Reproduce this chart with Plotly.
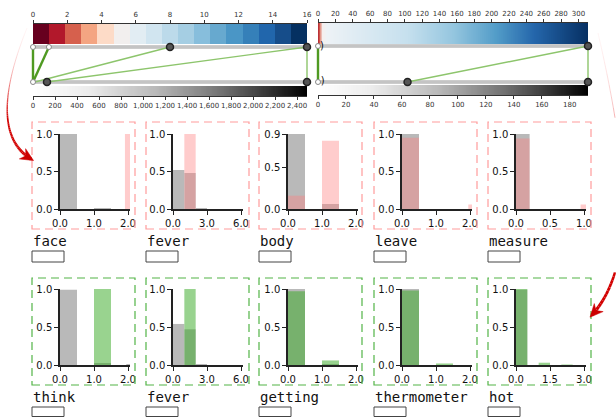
import numpy as np
import plotly.graph_objects as go

W, H = 616, 418

# ---------------- data ----------------
# top-left: discrete RdBu legend (0..16) and grey count legend (0..~2490)
rdbu_ticks = [0, 2, 4, 6, 8, 10, 12, 14, 16]
rdbu_levels = list(range(17))
rdbu_max = 16
gray1_ticks = list(range(0, 2401, 200))
gray1_max = 2490
top1_white = [0, 0.93]
top1_dark = [8, 16]
bot1_white = [0]
bot1_dark = [127, 2490]
links1_top = [0, 0.93, 8, 16, 16]
links1_bot = [0, 0, 18, 127, 2490]
links1_strong = [True, True, False, False, False]

# top-right: continuous legend (0..~311) and grey legend (0..~193)
blues_ticks = list(range(0, 301, 20))
blues_max = 311
gray2_ticks = list(range(0, 181, 20))
gray2_max = 193
top2_white = [0]
top2_bracket = [4.6]
top2_dark = [311]
bot2_white = [0]
bot2_bracket = [3.3]
bot2_dark = [64, 193]
links2_top = [0, 311, 311]
links2_bot = [0, 64, 193]
links2_strong = [True, False, False]

# histogram panels
top_words = ["face", "fever", "body", "leave", "measure"]
top_bin = [0.5, 1.0, 0.5, 0.5, 0.2]
top_xmax = [2.0, 6.0, 2.0, 2.0, 1.0]
top_ymax = [1.0, 1.0, 0.9, 1.0, 1.0]
top_all_x = [[0, 1], [0, 1, 2], [0, 1], [0], [0]]
top_all_y = [[1.0, 0.01], [0.52, 0.48, 0.01], [0.9, 0.06], [1.0], [1.0]]
top_sel_x = [[1.91], [1], [0, 1], [0, 1.95], [0, 0.95]]
top_sel_y = [[1.0], [1.0], [0.16, 0.82], [0.95, 0.06], [0.94, 0.06]]

bot_words = ["think", "fever", "getting", "thermometer", "hot"]
bot_bin = [0.5, 1.0, 0.5, 0.5, 0.5]
bot_xmax = [2.0, 6.0, 2.0, 2.0, 3.0]
bot_ymax = [1.0, 1.0, 1.0, 1.0, 1.0]
bot_all_x = [[0, 1, 1.95], [0, 1, 2], [0, 1], [0], [0]]
bot_all_y = [[0.99, 0.02, 0.01], [0.54, 0.47, 0.01], [1.0, 0.01], [1.0], [0.99]]
bot_sel_x = [[1], [1], [0, 1], [0, 1], [0, 1, 2]]
bot_sel_y = [[1.0], [1.0], [0.97, 0.06], [0.98, 0.02], [1.0, 0.03, 0.006]]

# ---------------- styles ----------------
RDBU17 = ["#67001f", "#b2182b", "#d6604d", "#f4a582", "#fddbc7", "#f2efee",
          "#e2edf3", "#d1e5f0", "#bcdaea", "#a5cee3", "#87bedc", "#67a9cf",
          "#4a96c6", "#3580b9", "#2166ac", "#164d8a", "#053061"]
BLUES_SCALE = [[0, "#a50f2a"], [0.006, "#d6604d"], [0.016, "#f6efed"],
               [0.035, "#edf2f6"], [0.33, "#c6e0ee"], [0.5, "#95c6df"],
               [0.66, "#529cc8"], [0.8, "#2466ab"], [1, "#062f62"]]
GREY_SCALE = [[0, "#ffffff"], [0.2, "#ececec"], [0.45, "#b8b8b8"],
              [0.7, "#6e6e6e"], [1, "#000000"]]
GRAY_BAR = "#b9b9b9"
PINK = "rgba(255,128,128,0.40)"
GREEN = "rgba(60,170,40,0.52)"
PINK_BOX = "#ff9c9c"
GREEN_BOX = "#52b447"
STRONG = "#4f9a22"
WEAK = "#8dc56c"

fig = go.Figure()
layout = dict(template="none", width=W, height=H, autosize=False,
              margin=dict(l=0, r=0, t=0, b=0, pad=0),
              paper_bgcolor="white", plot_bgcolor="rgba(0,0,0,0)",
              showlegend=False, barmode="overlay",
              font=dict(family="DejaVu Sans", size=10, color="#111"))
shapes = []
annotations = []
counter = [0]


def new_axes(xpx, ypx, xkw, ykw):
    counter[0] += 1
    n = counter[0]
    s = "" if n == 1 else str(n)
    layout["xaxis" + s] = dict(domain=[xpx[0] / W, xpx[1] / W], anchor="y" + s,
                               automargin=False, tickangle=0, **xkw)
    layout["yaxis" + s] = dict(domain=[1 - ypx[1] / H, 1 - ypx[0] / H], anchor="x" + s,
                               automargin=False, tickangle=0, **ykw)
    return "x" + s, "y" + s


HIDDEN = dict(visible=False, fixedrange=True, showgrid=False, zeroline=False)


def legend_axis(vmax, ticks, side, fmt=""):
    return dict(range=[0, vmax], side=side, tickvals=ticks, tickformat=fmt,
                ticks="outside", ticklen=3, tickcolor="#333", tickwidth=1,
                showline=True, linecolor="#333", linewidth=1,
                tickfont=dict(size=7, color="#333"), showgrid=False,
                zeroline=False, fixedrange=True)


def pad_dom(p0, p1, lo, hi):
    return (p0 + lo * (p1 - p0), p0 + hi * (p1 - p0))


def add_connector(xp, yp_top, yp_bot, tmax, bmax, tw, tb, td, bw, bb, bd, lt, lb, ls):
    xr = [-0.03, 1.03]
    yr = [-0.15, 1.15]
    xd = pad_dom(xp[0], xp[1], *xr)
    ydd = pad_dom(yp_bot, yp_top, *yr)
    xa, ya = new_axes(xd, (ydd[1], ydd[0]), dict(HIDDEN, range=xr), dict(HIDDEN, range=yr))
    for yv in (1, 0):
        fig.add_trace(go.Scatter(x=[0, 1], y=[yv, yv], mode="lines",
                                 line=dict(color="#9a9a9a", width=3.2),
                                 xaxis=xa, yaxis=ya, hoverinfo="skip"))
        fig.add_trace(go.Scatter(x=[0, 1], y=[yv, yv], mode="lines",
                                 line=dict(color="#d2d2d2", width=1.4),
                                 xaxis=xa, yaxis=ya, hoverinfo="skip"))
    for a, b, s in zip(lt, lb, ls):
        fig.add_trace(go.Scatter(x=[a / tmax, b / bmax], y=[1, 0], mode="lines",
                                 line=dict(color=STRONG if s else WEAK, width=2.4 if s else 1.4),
                                 xaxis=xa, yaxis=ya, hoverinfo="skip"))
    for vals, vmax, yv in ((tw, tmax, 1), (bw, bmax, 0)):
        fig.add_trace(go.Scatter(x=[v / vmax for v in vals], y=[yv] * len(vals), mode="markers",
                                 marker=dict(size=5, color="white", line=dict(color="#888", width=1)),
                                 cliponaxis=False, xaxis=xa, yaxis=ya, hoverinfo="skip"))
    for vals, vmax, yv in ((td, tmax, 1), (bd, bmax, 0)):
        fig.add_trace(go.Scatter(x=[v / vmax for v in vals], y=[yv] * len(vals), mode="markers",
                                 marker=dict(size=7, color="#555", line=dict(color="#222", width=1.5)),
                                 cliponaxis=False, xaxis=xa, yaxis=ya, hoverinfo="skip"))
    for vals, vmax, yv in ((tb, tmax, 1), (bb, bmax, 0)):
        if vals:
            fig.add_trace(go.Scatter(x=[v / vmax for v in vals], y=[yv] * len(vals), mode="text",
                                     text=[")"] * len(vals),
                                     textfont=dict(size=10, color="#111", family="DejaVu Sans"),
                                     cliponaxis=False, xaxis=xa, yaxis=ya, hoverinfo="skip"))


# ---------- top-left legends ----------
xa, ya = new_axes((33, 307), (24, 44), legend_axis(rdbu_max, rdbu_ticks, "top"),
                  dict(HIDDEN, range=[-0.5, 0.5]))
fig.add_trace(go.Heatmap(z=[rdbu_levels], x=[(i + 0.5) * rdbu_max / 17 for i in rdbu_levels], y=[0],
                         zmin=0, zmax=16, colorscale=[[i / 16, c] for i, c in enumerate(RDBU17)],
                         showscale=False, hoverinfo="skip", xaxis=xa, yaxis=ya))
xa, ya = new_axes((33, 307), (86, 96), legend_axis(gray1_max, gray1_ticks, "bottom", ","),
                  dict(HIDDEN, range=[-0.5, 0.5]))
g1 = np.linspace(0, gray1_max, 250)
fig.add_trace(go.Heatmap(z=[g1], x=g1, y=[0], colorscale=GREY_SCALE, showscale=False,
                         hoverinfo="skip", xaxis=xa, yaxis=ya))
add_connector((33, 307), 47, 82, rdbu_max, gray1_max, top1_white, [], top1_dark,
              bot1_white, [], bot1_dark, links1_top, links1_bot, links1_strong)

# ---------- top-right legends ----------
xa, ya = new_axes((318, 588), (23, 44), legend_axis(blues_max, blues_ticks, "top"),
                  dict(HIDDEN, range=[-0.5, 0.5]))
b1 = np.linspace(0, blues_max, 400)
fig.add_trace(go.Heatmap(z=[b1], x=b1, y=[0], colorscale=BLUES_SCALE, zmin=0, zmax=blues_max,
                         showscale=False, hoverinfo="skip", xaxis=xa, yaxis=ya))
xa, ya = new_axes((318, 588), (85, 95), legend_axis(gray2_max, gray2_ticks, "bottom"),
                  dict(HIDDEN, range=[-0.5, 0.5]))
g2 = np.linspace(0, gray2_max, 250)
fig.add_trace(go.Heatmap(z=[g2], x=g2, y=[0], colorscale=GREY_SCALE, showscale=False,
                         hoverinfo="skip", xaxis=xa, yaxis=ya))
add_connector((318, 588), 46, 82, blues_max, gray2_max, top2_white, top2_bracket, top2_dark,
              bot2_white, bot2_bracket, bot2_dark, links2_top, links2_bot, links2_strong)

# ---------- histogram panels ----------
box_left = [32, 146, 259, 374, 488]
axis_left = [60, 173, 288, 402, 516]


def hist_row(words, bins, xmaxs, ymaxs, ax_, ay_, sx_, sy_, sel_color, box_color,
             plot_y, box_y, label_y, rect_y):
    for i in range(5):
        xmax, ymax, w = xmaxs[i], ymaxs[i], bins[i]
        xr = [0, xmax * 1.03]
        axk = dict(range=xr, tickvals=[0, xmax / 2, xmax], tickformat=".1f",
                   ticks="outside", ticklen=4, tickcolor="#222", tickwidth=1,
                   showline=True, linecolor="#222", linewidth=1.5,
                   tickfont=dict(size=10, color="#111"), showgrid=False,
                   zeroline=False, fixedrange=True)
        ayk = dict(range=[0, ymax], tickvals=[0, 0.5, ymax], tickformat=".1f",
                   ticks="outside", ticklen=4, tickcolor="#222", tickwidth=1,
                   showline=True, linecolor="#222", linewidth=1.5,
                   tickfont=dict(size=10, color="#111"), showgrid=False,
                   zeroline=False, fixedrange=True)
        x0 = axis_left[i]
        xa, ya = new_axes((x0, x0 + 68 * 1.03), plot_y, axk, ayk)
        fig.add_trace(go.Bar(x=[l + w / 2 for l in ax_[i]], y=ay_[i], width=w,
                             marker=dict(color=GRAY_BAR, line=dict(width=0)),
                             xaxis=xa, yaxis=ya, hoverinfo="skip"))
        fig.add_trace(go.Bar(x=[l + w / 2 for l in sx_[i]], y=sy_[i], width=w,
                             marker=dict(color=sel_color, line=dict(width=0)),
                             xaxis=xa, yaxis=ya, hoverinfo="skip"))
        bl = box_left[i]
        shapes.append(dict(type="rect", xref="paper", yref="paper",
                           x0=bl / W, x1=(bl + 103) / W, y0=1 - box_y[1] / H, y1=1 - box_y[0] / H,
                           line=dict(color=box_color, width=1.2, dash="8px,5px")))
        annotations.append(dict(text=words[i], xref="paper", yref="paper",
                                x=(bl - 1) / W, y=1 - label_y / H, xanchor="left", yanchor="middle",
                                showarrow=False,
                                font=dict(family="DejaVu Sans Mono", size=14, color="#111")))
        shapes.append(dict(type="rect", xref="paper", yref="paper",
                           x0=bl / W, x1=(bl + 32) / W, y0=1 - rect_y[1] / H, y1=1 - rect_y[0] / H,
                           line=dict(color="#444", width=1)))


hist_row(top_words, top_bin, top_xmax, top_ymax, top_all_x, top_all_y, top_sel_x, top_sel_y,
         PINK, PINK_BOX, (134, 209), (122, 229), 241, (251, 262))
hist_row(bot_words, bot_bin, bot_xmax, bot_ymax, bot_all_x, bot_all_y, bot_sel_x, bot_sel_y,
         GREEN, GREEN_BOX, (289, 365), (278, 385), 397, (407, 416.5))


# ---------- red tapered arrows (kept inside the canvas) ----------
def bez(c, t):
    mt = 1 - t
    return (mt ** 3 * c[0][0] + 3 * mt ** 2 * t * c[1][0] + 3 * mt * t ** 2 * c[2][0] + t ** 3 * c[3][0],
            mt ** 3 * c[0][1] + 3 * mt ** 2 * t * c[1][1] + 3 * mt * t ** 2 * c[2][1] + t ** 3 * c[3][1])


def P(x, y):
    return x / W, 1 - y / H


XMAX_PX = W - 1.0
XMIN_PX = 1.0


def clip_seg(a, b):
    (x1, y1), (x2, y2) = a, b
    for lim, keep_low in ((XMAX_PX, True), (XMIN_PX, False)):
        in1 = x1 <= lim if keep_low else x1 >= lim
        in2 = x2 <= lim if keep_low else x2 >= lim
        if not in1 and not in2:
            return None
        if in1 != in2:
            f = (lim - x1) / (x2 - x1)
            xm, ym = lim, y1 + f * (y2 - y1)
            if in1:
                x2, y2 = xm, ym
            else:
                x1, y1 = xm, ym
    return (x1, y1), (x2, y2)


def add_arrow(c, n=60):
    ts = np.linspace(0, 1, n + 1)
    pts = [bez(c, t) for t in ts]
    for i in range(n):
        tm = (ts[i] + ts[i + 1]) / 2
        seg = clip_seg(pts[i], pts[i + 1])
        if seg is None:
            continue
        w = 0.4 + 2.9 * tm ** 1.4
        s = min(1.0, tm / 0.55)
        r = int(255 - 45 * s)
        g = int(160 - 160 * s)
        b = int(160 - 160 * s)
        a = 0.25 + 0.75 * s
        (xa_, ya_), (xb_, yb_) = P(*seg[0]), P(*seg[1])
        shapes.append(dict(type="line", xref="paper", yref="paper", x0=xa_, y0=ya_, x1=xb_, y1=yb_,
                           line=dict(color=f"rgba({r},{g},{b},{a:.2f})", width=w)))
    tip = np.array(c[3], float)
    d = tip - np.array(c[2], float)
    d /= np.linalg.norm(d)
    perp = np.array([-d[1], d[0]])
    head = tip + d * 3
    base = tip - d * 10
    p1 = base + perp * 6
    p2 = base - perp * 6
    notch = tip - d * 6
    pts2 = [head, p1, notch, p2]
    path = "M " + " L ".join(f"{P(*p)[0]:.5f},{P(*p)[1]:.5f}" for p in pts2) + " Z"
    shapes.append(dict(type="path", xref="paper", yref="paper", path=path,
                       fillcolor="#cc0000", line=dict(color="#cc0000", width=0.5)))


add_arrow([(27, 28), (0, 95), (0, 140), (31, 159)])
add_arrow([(598, 33), (625, 150), (640, 262), (592, 315)])

layout["shapes"] = shapes
layout["annotations"] = annotations
fig.update_layout(**layout)
fig.write_html("out.html", config={"displayModeBar": False, "responsive": False})
